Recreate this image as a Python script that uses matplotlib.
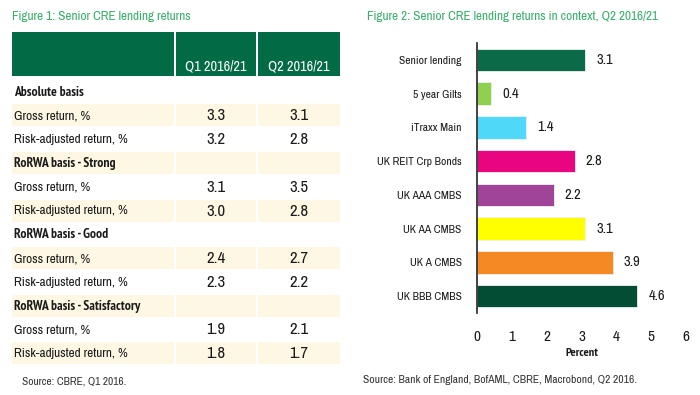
import matplotlib.pyplot as plt
from matplotlib import font_manager as fm
from matplotlib.patches import Rectangle

# ---- Figure 1 data (table) ----
row_labels = ["Absolute basis", "Gross return, %", "Risk-adjusted return, %",
              "RoRWA basis - Strong", "Gross return, %", "Risk-adjusted return, %",
              "RoRWA basis - Good", "Gross return, %", "Risk-adjusted return, %",
              "RoRWA basis - Satisfactory", "Gross return, %", "Risk-adjusted return, %"]
q1_vals = [None, 3.3, 3.2, None, 3.1, 3.0, None, 2.4, 2.3, None, 1.9, 1.8]
q2_vals = [None, 3.1, 2.8, None, 3.5, 2.8, None, 2.7, 2.2, None, 2.1, 1.7]
col_headers = ["Q1 2016/21", "Q2 2016/21"]

# ---- Figure 2 data (bars) ----
categories = ["Senior lending", "5 year Gilts", "iTraxx Main", "UK REIT Crp Bonds",
              "UK AAA CMBS", "UK AA CMBS", "UK A CMBS", "UK BBB CMBS"]
returns = [3.1, 0.4, 1.4, 2.8, 2.2, 3.1, 3.9, 4.6]
bar_colors = ["#0b6b48", "#8fd14f", "#4fd8f7", "#e8057f",
              "#a0449a", "#ffff00", "#f58a25", "#024d33"]

# look for a narrow face; the original uses a condensed sans
narrow = [f for f in fm.fontManager.ttflist
          if ("Narrow" in f.name or "Condensed" in f.name or "Condensed" in f.fname
              or "Narrow" in f.fname or f.stretch in ("condensed", "semi-condensed"))
          and "Oblique" not in f.fname and "Italic" not in f.fname]
narrow.sort(key=lambda f: 0 if "Narrow" in f.name or "Narrow" in f.fname else 1)
reg = [f for f in narrow if f.weight in (400, "normal", "regular")]
bold = [f for f in narrow if f.weight in (700, "bold")]
if reg:
    FP = fm.FontProperties(fname=reg[0].fname)
    FPB = fm.FontProperties(fname=bold[0].fname) if bold else fm.FontProperties(fname=reg[0].fname, weight="bold")
    scale = 1.0
else:
    FP = fm.FontProperties(family="DejaVu Sans")
    FPB = fm.FontProperties(family="DejaVu Sans", weight="bold")
    scale = 0.8

def fp(size, b=False):
    p = (FPB if b else FP).copy()
    p.set_size(size * scale)
    return p

GREEN = "#006b45"
TITLE_GREEN = "#3aaf6c"
CREAM = "#fdf7e3"
TXT = "#1a1a1a"

W, H = 700, 395
fig = plt.figure(figsize=(7, 3.95), dpi=100)

# pixel-space overlay for the table
ax = fig.add_axes([0, 0, 1, 1])
ax.set_xlim(0, W)
ax.set_ylim(H, 0)
ax.axis("off")

ax.text(12, 16, "Figure 1: Senior CRE lending returns", color=TITLE_GREEN,
        fontproperties=fp(9.5), va="center", ha="left")

cols = [(12, 174), (176, 256), (258, 340)]
for x0, x1 in cols:
    ax.add_patch(Rectangle((x0, 32), x1 - x0, 44, color=GREEN, lw=0))
for (x0, x1), h in zip(cols[1:], col_headers):
    ax.text((x0 + x1) / 2, 67, h, color="white", fontproperties=fp(10.3),
            ha="center", va="center")

row0, pitch = 92, 23.8
for i, lab in enumerate(row_labels):
    yc = row0 + i * pitch
    if i % 2 == 1:
        for x0, x1 in cols:
            ax.add_patch(Rectangle((x0, yc - 11.5), x1 - x0, 22, color=CREAM, lw=0))
    section = q1_vals[i] is None
    ax.text(14, yc, lab, color=TXT, fontproperties=fp(9.7 if section else 9.6, section),
            va="center", ha="left")
    for (x0, x1), v in zip(cols[1:], (q1_vals[i], q2_vals[i])):
        if v is not None:
            ax.text((x0 + x1) / 2, yc, f"{v:.1f}", color=TXT, fontproperties=fp(12),
                    ha="center", va="center")

ax.text(22, 381, "Source: CBRE, Q1 2016.", color="#333333", fontproperties=fp(8.2),
        va="center", ha="left")

# ---- bar chart ----
ax.text(367, 16, "Figure 2: Senior CRE lending returns in context, Q2 2016/21",
        color=TITLE_GREEN, fontproperties=fp(9.5), va="center", ha="left")
ax.text(363, 380, "Source: Bank of England, BofAML, CBRE, Macrobond, Q2 2016.",
        color="#333333", fontproperties=fp(8.3), va="center", ha="left")

left, right, top, bottom = 477, 686, 43, 313
bx = fig.add_axes([left / W, 1 - bottom / H, (right - left) / W, (bottom - top) / H])
ypos = range(len(categories))
bx.barh(ypos, returns, height=0.66, color=bar_colors, edgecolor="#f0f0f0", lw=0.6)
for y, v in zip(ypos, returns):
    bx.annotate(f"{v:.1f}", (v, y), xytext=(8, 0), textcoords="offset points",
                ha="left", va="center", fontproperties=fp(10.5), color=TXT)
bx.set_xlim(0, 6)
bx.set_ylim(len(categories) - 0.5, -0.5)
bx.set_yticks(list(ypos))
bx.set_yticklabels(categories, color=TXT)
bx.set_xticks(range(7))
bx.set_xticklabels([str(t) for t in range(7)], color=TXT)
for t in bx.get_yticklabels():
    t.set_fontproperties(fp(8.3))
for t in bx.get_xticklabels():
    t.set_fontproperties(fp(11))
bx.tick_params(axis="x", length=0, pad=12)
bx.tick_params(axis="y", length=0, pad=11)
bx.set_xlabel("Percent", fontproperties=fp(8.9, True), color=TXT, labelpad=3)
for s in ("top", "right", "bottom"):
    bx.spines[s].set_visible(False)
bx.spines["left"].set_color("#222222")
bx.spines["left"].set_linewidth(1.2)

fig.savefig("out.png", dpi=100)
